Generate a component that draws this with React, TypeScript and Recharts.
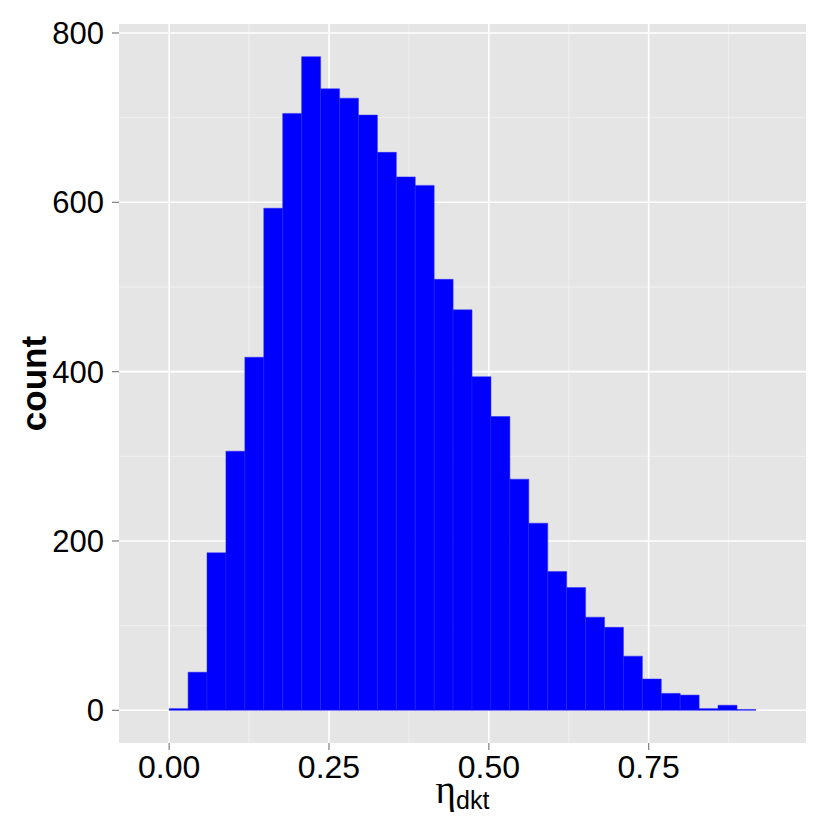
import React from 'react';
import { BarChart, Bar, XAxis, YAxis, CartesianGrid } from 'recharts';

// histogram bins (centres) and counts
const binMids = [
  -0.0148, 0.0148, 0.0444, 0.074, 0.1036, 0.1332, 0.1628, 0.1924, 0.222, 0.2516, 0.2812,
  0.3108, 0.3404, 0.37, 0.3996, 0.4292, 0.4588, 0.4884, 0.518, 0.5476, 0.5772, 0.6068,
  0.6364, 0.666, 0.6956, 0.7252, 0.7548, 0.7844, 0.814, 0.8436, 0.8732, 0.9028, 0.9324
];
const counts = [
  0, 2, 45, 186, 306, 417, 593, 705, 772, 734, 723,
  703, 659, 630, 620, 509, 473, 394, 347, 273, 221, 164,
  145, 110, 98, 64, 37, 20, 18, 2, 6, 1, 0
];
const binWidth = 0.0296;

const xTicks = [0, 0.25, 0.5, 0.75];
const xMinor = [0.125, 0.375, 0.625, 0.875];
const yTicks = [0, 200, 400, 600, 800];
const yMinor = [100, 300, 500, 700];

const data = binMids.map((mid, i) => ({ mid, count: counts[i] }));

// ggplot style 5% expansion
const xLo = binMids[0] - binWidth / 2;
const xHi = binMids[binMids.length - 1] + binWidth / 2;
const xPad = (xHi - xLo) * 0.05;
const yMax = Math.max(...counts);
const yPad = yMax * 0.05;

const FONT = '"Liberation Sans", Arial, Helvetica, sans-serif';

const XTitle = (props: any) => {
  const { viewBox } = props;
  const cx = viewBox.x + viewBox.width / 2;
  return (
    <text x={cx} y={viewBox.y + 60} textAnchor="middle" fill="#000">
      <tspan fontFamily='"Liberation Serif", "DejaVu Serif", serif' fontSize={39}>η</tspan>
      <tspan fontFamily={FONT} fontSize={25} dy={6}>dkt</tspan>
    </text>
  );
};

const YTitle = (props: any) => {
  const { viewBox } = props;
  const cy = viewBox.y + viewBox.height / 2;
  const x = 46;
  return (
    <text
      x={x}
      y={cy}
      transform={`rotate(-90, ${x}, ${cy})`}
      textAnchor="middle"
      fontFamily={FONT}
      fontWeight="bold"
      fontSize={35}
      fill="#000"
    >
      count
    </text>
  );
};

export default function App() {
  return (
    <div style={{ position: 'absolute', left: 0, top: 0, width: 830, height: 830, background: '#fff' }}>
      <BarChart
        width={830}
        height={830}
        data={data}
        margin={{ top: 24, right: 24, bottom: 0, left: 0 }}
        barCategoryGap={0}
        barGap={0}
      >
        <CartesianGrid
          fill="#e5e5e5"
          stroke="#f2f2f2"
          strokeWidth={0.8}
          verticalValues={xMinor}
          horizontalValues={yMinor}
        />
        <CartesianGrid stroke="#ffffff" strokeWidth={1.6} verticalValues={xTicks} horizontalValues={yTicks} />
        <XAxis
          dataKey="mid"
          type="number"
          domain={[xLo - xPad, xHi + xPad]}
          allowDataOverflow
          ticks={xTicks}
          tickFormatter={(v: number) => v.toFixed(2)}
          height={87}
          axisLine={false}
          tickSize={7}
          tickMargin={5}
          tickLine={{ stroke: '#7f7f7f', strokeWidth: 1.2 }}
          tick={{ fill: '#000', fontSize: 32, fontFamily: FONT }}
          label={{ content: XTitle }}
        />
        <YAxis
          type="number"
          domain={[-yPad, yMax + yPad]}
          allowDataOverflow
          ticks={yTicks}
          width={119}
          axisLine={false}
          tickSize={7}
          tickMargin={8}
          tickLine={{ stroke: '#7f7f7f', strokeWidth: 1.2 }}
          tick={{ fill: '#000', fontSize: 31, fontFamily: FONT }}
          label={{ content: YTitle }}
        />
        <Bar dataKey="count" fill="#0000ff" stroke="#2a2aff" strokeWidth={0.5} isAnimationActive={false} />
      </BarChart>
    </div>
  );
}
